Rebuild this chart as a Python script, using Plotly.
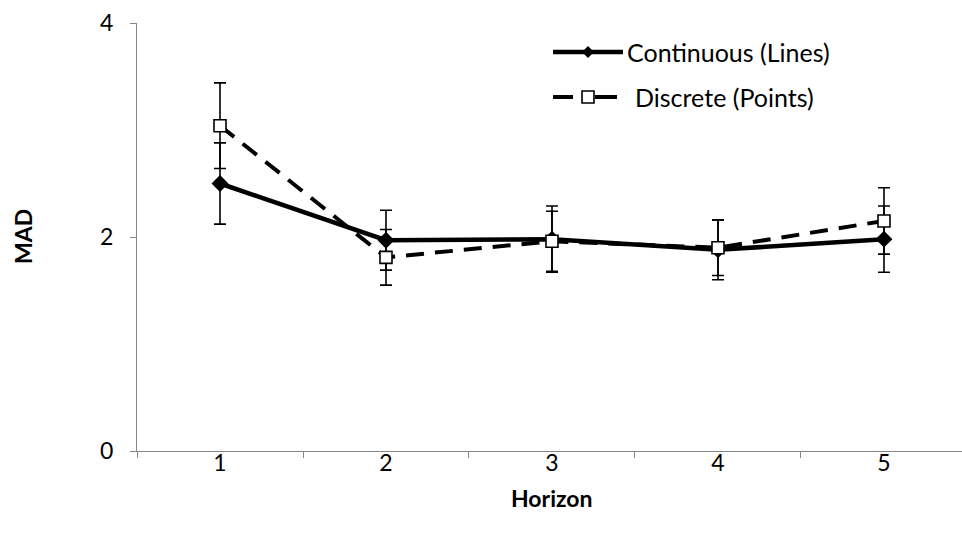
import plotly.graph_objects as go

# Forecast horizon categories
horizons = [1, 2, 3, 4, 5]
tick_labels = ["1", "2", "3", "4", "5"]

# Mean absolute deviation per horizon, with error-bar half-widths
continuous_mad = [2.50, 1.97, 1.98, 1.88, 1.98]
continuous_err = [0.38, 0.28, 0.31, 0.28, 0.31]
discrete_mad = [3.04, 1.81, 1.96, 1.90, 2.15]
discrete_err = [0.40, 0.26, 0.28, 0.26, 0.31]

series_names = ["Continuous (Lines)", "Discrete (Points)"]

FONT = "Lato, 'Open Sans', sans-serif"
AXIS_GREY = "#868686"
TICK_SIZE = 23
LEGEND_SIZE = 25
TITLE_SIZE = 23

fig = go.Figure()

fig.add_trace(go.Scatter(
    x=horizons, y=continuous_mad, name=series_names[0],
    mode="lines+markers",
    line=dict(color="black", width=4.5),
    marker=dict(symbol="diamond", size=13, color="black"),
    error_y=dict(type="data", array=continuous_err, visible=True,
                 color="black", thickness=1.6, width=6),
    showlegend=False,
))

fig.add_trace(go.Scatter(
    x=horizons, y=discrete_mad, name=series_names[1],
    mode="lines+markers",
    line=dict(color="black", width=4, dash="18px,11px"),
    marker=dict(symbol="square", size=12, color="white",
                line=dict(color="black", width=1.6)),
    error_y=dict(type="data", array=discrete_err, visible=True,
                 color="black", thickness=1.6, width=6),
    showlegend=False,
))

# Legend glyphs drawn in paper space
W, H = 962, 539
L, T, B = 137, 23, 88
pw, ph = W - L, H - T - B


def px(x):
    return (x - L) / pw


def py(y):
    return (H - B - y) / ph


shapes = []
annotations = []

# Continuous entry
y1 = 52
shapes.append(dict(type="line", xref="paper", yref="paper",
                   x0=px(553), x1=px(623), y0=py(y1), y1=py(y1),
                   line=dict(color="black", width=4.5)))
cx, r = 588, 6
shapes.append(dict(type="path", xref="paper", yref="paper",
                   path=f"M {px(cx - r)} {py(y1)} L {px(cx)} {py(y1 - r)} "
                        f"L {px(cx + r)} {py(y1)} L {px(cx)} {py(y1 + r)} Z",
                   fillcolor="black", line=dict(color="black", width=0)))
annotations.append(dict(x=px(625), y=py(y1), xref="paper", yref="paper",
                        text=series_names[0], showarrow=False,
                        xanchor="left", yanchor="middle",
                        font=dict(family=FONT, size=LEGEND_SIZE, color="black")))

# Discrete entry
y2 = 97
shapes.append(dict(type="line", xref="paper", yref="paper",
                   x0=px(553), x1=px(573), y0=py(y2), y1=py(y2),
                   line=dict(color="black", width=4)))
shapes.append(dict(type="line", xref="paper", yref="paper",
                   x0=px(595), x1=px(617), y0=py(y2), y1=py(y2),
                   line=dict(color="black", width=4)))
s = 6
shapes.append(dict(type="rect", xref="paper", yref="paper",
                   x0=px(cx - s), x1=px(cx + s), y0=py(y2 - s), y1=py(y2 + s),
                   fillcolor="white", line=dict(color="black", width=1.6)))
annotations.append(dict(x=px(633), y=py(y2), xref="paper", yref="paper",
                        text=series_names[1], showarrow=False,
                        xanchor="left", yanchor="middle",
                        font=dict(family=FONT, size=LEGEND_SIZE, color="black")))

# Axis titles
annotations.append(dict(x=px(552), y=py(498), xref="paper", yref="paper",
                        text="<b>Horizon</b>", showarrow=False,
                        xanchor="center", yanchor="middle",
                        font=dict(family=FONT, size=TITLE_SIZE, color="black")))
annotations.append(dict(x=px(23), y=py(237), xref="paper", yref="paper",
                        text="<b>MAD</b>", showarrow=False, textangle=-90,
                        xanchor="center", yanchor="middle",
                        font=dict(family=FONT, size=TITLE_SIZE, color="black")))

fig.update_layout(
    width=W, height=H,
    margin=dict(l=L, r=0, t=T, b=B),
    plot_bgcolor="white", paper_bgcolor="white",
    font=dict(family=FONT, size=TICK_SIZE, color="black"),
    shapes=shapes, annotations=annotations,
    xaxis=dict(
        range=[0.5, 5.47], tickvals=horizons, ticktext=tick_labels,
        ticks="", showgrid=False, zeroline=False,
        showline=True, linecolor=AXIS_GREY, linewidth=1.3,
        minor=dict(tick0=0.5, dtick=1, ticks="outside", ticklen=6,
                   tickcolor=AXIS_GREY, tickwidth=1.3, showgrid=False),
        tickfont=dict(family=FONT, size=TICK_SIZE),
        ticklabelstandoff=-9,
    ),
    yaxis=dict(
        range=[0, 4], tickvals=[0, 2, 4],
        ticks="outside", ticklen=6, tickcolor=AXIS_GREY, tickwidth=1.3,
        showgrid=False, zeroline=False,
        showline=True, linecolor=AXIS_GREY, linewidth=1.3,
        tickfont=dict(family=FONT, size=TICK_SIZE),
        ticklabelstandoff=12,
    ),
)

fig.write_html("out.html")
